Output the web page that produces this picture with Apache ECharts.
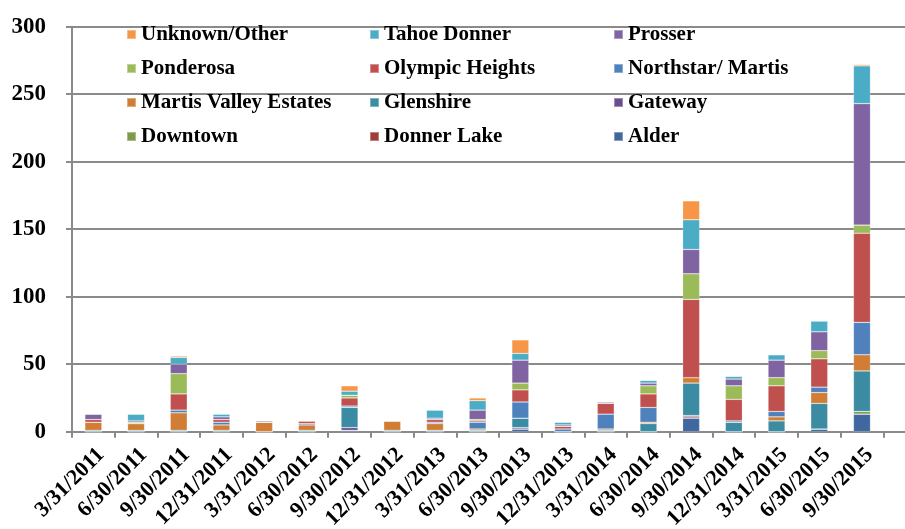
<!DOCTYPE html>
<html>
<head>
<meta charset="utf-8">
<script src="https://cdn.jsdelivr.net/npm/echarts@6/dist/echarts.min.js"></script>
<style>
  html, body { margin: 0; padding: 0; background: #fff; }
  #chart { width: 905px; height: 529px; }
</style>
</head>
<body>
<div id="chart"></div>
<script>
// quarter ends; last slot is empty (axis runs past the right edge)
const quarters = ["3/31/2011", "6/30/2011", "9/30/2011", "12/31/2011", "3/31/2012", "6/30/2012",
  "9/30/2012", "12/31/2012", "3/31/2013", "6/30/2013", "9/30/2013", "12/31/2013", "3/31/2014",
  "6/30/2014", "9/30/2014", "12/31/2014", "3/31/2015", "6/30/2015", "9/30/2015", ""];

// stack order, bottom to top
const alder     = [0, 0, 0, 0, 0, 0, 1, 0, 0, 0, 2, 0, 0, 0, 10, 0, 0, 2, 13];
const donnerLake = [0, 0, 0, 0, 0, 0, 0, 0, 0, 0, 0, 0, 0, 0, 1, 0, 0, 0, 0];
const downtown  = [0, 0, 0, 0, 0, 0, 0, 0, 0, 0, 0, 0, 0, 0, 0, 0, 0, 0, 2];
const gateway   = [0, 0, 0, 0, 0, 0, 2, 0, 0, 0, 1, 0, 0, 0, 1, 0, 0, 0, 0];
const glenshire = [1, 1, 1, 1, 0, 1, 15, 1, 1, 1, 7, 0, 1, 6, 24, 7, 8, 19, 30];
const martisValley = [6, 5, 13, 4, 7, 4, 0, 7, 5, 1, 0, 0, 1, 1, 4, 0, 3, 8, 12];
const northstar = [0, 0, 2, 2, 0, 1, 1, 0, 1, 5, 12, 2, 11, 11, 0, 1, 4, 4, 24];
const olympic   = [2, 0, 12, 2, 0, 2, 6, 0, 2, 1, 9, 2, 8, 10, 58, 16, 19, 21, 66];
const ponderosa = [0, 1, 15, 0, 0, 0, 2, 0, 0, 1, 5, 0, 0, 6, 19, 10, 6, 6, 6];
const prosser   = [4, 1, 7, 2, 1, 0, 0, 0, 1, 7, 17, 1, 1, 2, 18, 5, 13, 14, 90];
const tahoe     = [0, 5, 5, 2, 0, 0, 3, 0, 6, 7, 5, 2, 0, 2, 22, 2, 4, 8, 28];
const unknown   = [0, 0, 1, 0, 0, 0, 4, 0, 0, 2, 10, 0, 0, 0, 14, 0, 0, 0, 1];

const yTicks = [0, 50, 100, 150, 200, 250, 300];

const seriesDefs = [
  ["Alder", alder, "#41689e"],
  ["Donner Lake", donnerLake, "#9d3d3a"],
  ["Downtown", downtown, "#7f9a48"],
  ["Gateway", gateway, "#6a4f8c"],
  ["Glenshire", glenshire, "#3b8ca2"],
  ["Martis Valley Estates", martisValley, "#d27d35"],
  ["Northstar/ Martis", northstar, "#4f81bd"],
  ["Olympic Heights", olympic, "#c0504d"],
  ["Ponderosa", ponderosa, "#9bbb59"],
  ["Prosser", prosser, "#8064a2"],
  ["Tahoe Donner", tahoe, "#4bacc6"],
  ["Unknown/Other", unknown, "#f79646"],
];

const font = "'Liberation Serif', 'Times New Roman', serif";
const chart = echarts.init(document.getElementById("chart"));

function legendCol(left, names) {
  return {
    orient: "vertical",
    left: left,
    top: 24,
    padding: 0,
    itemWidth: 9,
    itemHeight: 9,
    itemGap: 13,
    icon: "rect",
    selectedMode: false,
    data: names,
    textStyle: { fontFamily: font, fontWeight: "bold", fontSize: 21, lineHeight: 21, color: "#000" },
  };
}

chart.setOption({
  animation: false,
  grid: { left: 72, top: 26.7, width: 854, height: 405, outerBoundsMode: "none" },
  legend: [
    legendCol(126, ["Unknown/Other", "Ponderosa", "Martis Valley Estates", "Downtown"]),
    legendCol(369, ["Tahoe Donner", "Olympic Heights", "Glenshire", "Donner Lake"]),
    legendCol(613, ["Prosser", "Northstar/ Martis", "Gateway", "Alder"]),
  ],
  xAxis: {
    type: "category",
    data: quarters,
    axisLine: { lineStyle: { color: "#8a8a8a", width: 2 } },
    axisTick: { show: true, interval: 0, length: 6, lineStyle: { color: "#8a8a8a", width: 2 } },
    axisLabel: {
      interval: 0,
      rotate: 45,
      margin: 12,
      verticalAlign: "top",
      fontFamily: font,
      fontWeight: "bold",
      fontSize: 22,
      color: "#000",
    },
  },
  yAxis: {
    type: "value",
    min: yTicks[0],
    max: yTicks[yTicks.length - 1],
    interval: 50,
    axisLine: { show: true, lineStyle: { color: "#8a8a8a", width: 2 } },
    axisTick: { show: true, length: 6, lineStyle: { color: "#8a8a8a", width: 2 } },
    splitLine: { lineStyle: { color: "#8a8a8a", width: 2 } },
    axisLabel: {
      margin: 26,
      fontFamily: font,
      fontWeight: "bold",
      fontSize: 23,
      color: "#000",
    },
  },
  series: seriesDefs.map(([name, data, color]) => ({
    name: name,
    type: "bar",
    stack: "total",
    barWidth: 17,
    data: data,
    itemStyle: { color: color, borderColor: "rgba(255,255,255,0.35)", borderWidth: 0.6 },
  })),
});
</script>
</body>
</html>
